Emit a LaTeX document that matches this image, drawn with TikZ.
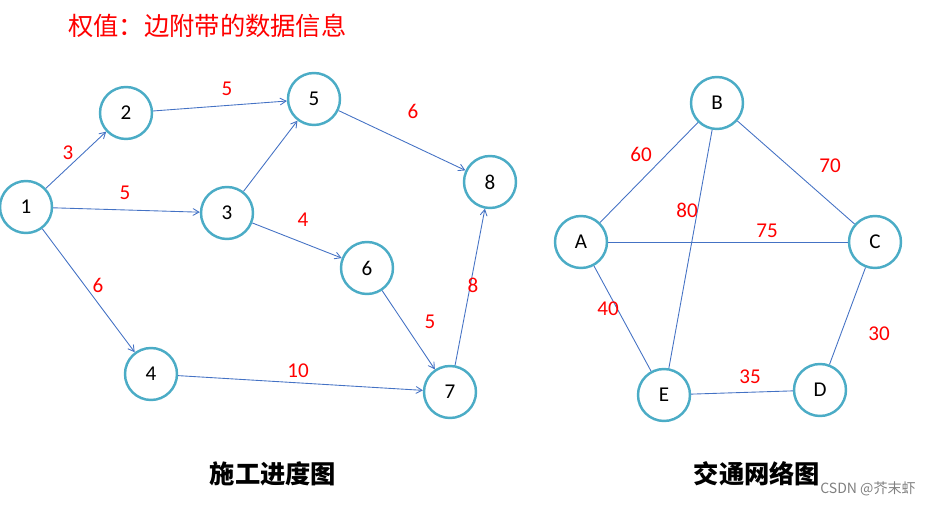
\documentclass[tikz,border=0pt]{standalone}
\usepackage{fontspec}
\setmainfont{Carlito}
\newfontfamily\cjk{Noto Sans CJK SC}
\usetikzlibrary{positioning,arrows}
\definecolor{ringblue}{RGB}{75,172,198}
\definecolor{edgeblue}{RGB}{68,114,196}
\begin{document}
\begin{tikzpicture}[x=0.02cm,y=-0.02cm]
		\tikzstyle{vtx}=[circle,draw=ringblue,line width=1.4pt,minimum size=1.04cm,inner sep=0pt,font=\large,fill=white]
		\tikzstyle{edge}=[draw=edgeblue,line width=0.5pt]
		\tikzstyle{arc}=[edge,->,>=angle 60]
		\tikzstyle{wt}=[text=red,font=\large]
		\useasboundingbox (0,0) rectangle (934,506);
		\node [wt,font=\cjk\Large,anchor=west] (title) at (62,26) {权值：边附带的数据信息};
		% construction graph
		\node [vtx] (n1) at (26,207) {1};
		\node [vtx] (n2) at (126,113) {2};
		\node [vtx] (n5) at (314,99) {5};
		\node [vtx] (n3) at (227,213) {3};
		\node [vtx] (n8) at (490,182) {8};
		\node [vtx] (n6) at (367,268) {6};
		\node [vtx] (n4) at (151,374) {4};
		\node [vtx] (n7) at (450,392) {7};
		\draw [arc] (n1) -- (n2);
		\draw [arc] (n2) -- (n5);
		\draw [arc] (n1) -- (n3);
		\draw [arc] (n3) -- (n5);
		\draw [arc] (n5) -- (n8);
		\draw [arc] (n3) -- (n6);
		\draw [arc] (n1) -- (n4);
		\draw [arc] (n6) -- (n7);
		\draw [arc] (n4) -- (n7);
		\draw [arc] (n7) -- (n8);
		\node [wt] (w12) at (68,153) {3};
		\node [wt] (w25) at (227,89) {5};
		\node [wt] (w13) at (125,193) {5};
		\node [wt] (w58) at (413,111) {6};
		\node [wt] (w36) at (303,220) {4};
		\node [wt] (w14) at (98,285) {6};
		\node [wt] (w67) at (430,322) {5};
		\node [wt] (w47) at (298,371) {10};
		\node [wt] (w78) at (473,285) {8};
		% traffic graph
		\node [vtx] (B) at (717,103) {B};
		\node [vtx] (A) at (581,242) {A};
		\node [vtx] (C) at (875,242) {C};
		\node [vtx] (E) at (664,395) {E};
		\node [vtx] (D) at (820,390) {D};
		\draw [edge] (A) -- (B);
		\draw [edge] (B) -- (C);
		\draw [edge] (A) -- (C);
		\draw [edge] (B) -- (E);
		\draw [edge] (A) -- (E);
		\draw [edge] (E) -- (D);
		\draw [edge] (C) -- (D);
		\node [wt] (wab) at (641,154) {60};
		\node [wt] (wbc) at (830,166) {70};
		\node [wt] (wac) at (767,231) {75};
		\node [wt] (wbe) at (687,210) {80};
		\node [wt] (wae) at (608,309) {40};
		\node [wt] (wed) at (750,377) {35};
		\node [wt] (wcd) at (879,334) {30};
		% captions
		\node [font=\cjk\Large\bfseries] (cap1) at (273,474) {施工进度图};
		\node [font=\cjk\Large\bfseries] (cap2) at (757,474) {交通网络图};
		\node [text=gray,font=\cjk\footnotesize] (mark) at (868,489) {CSDN @芥末虾};
\end{tikzpicture}
\end{document}
